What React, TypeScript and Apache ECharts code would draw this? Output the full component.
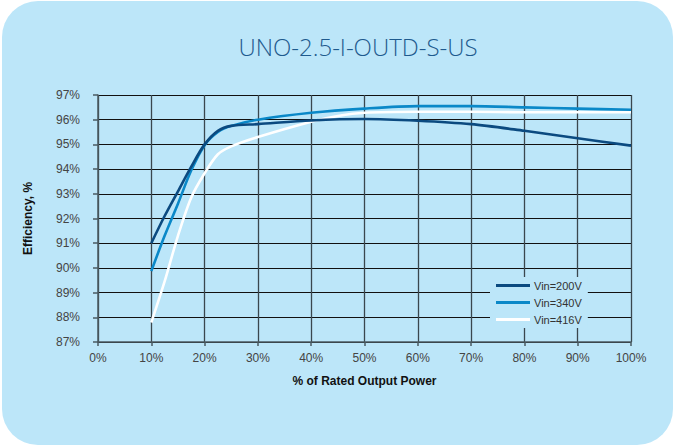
import React, { useEffect, useRef } from "react";
import * as echarts from "echarts";

const xTicks = [0, 10, 20, 30, 40, 50, 60, 70, 80, 90, 100];
const seriesNames = ["Vin=200V", "Vin=340V", "Vin=416V"];
const seriesColors = ["#0b4a80", "#0a88c8", "#ffffff"];

const x200 = [10, 12.5, 15, 17.5, 20, 22.5, 25, 30, 40, 50, 60, 70, 80, 90, 100];
const y200 = [91.0, 92.1, 93.1, 94.1, 95.0, 95.55, 95.75, 95.82, 95.97, 96.03, 95.96, 95.82, 95.55, 95.25, 94.95];

const x340 = [10, 12.5, 15, 17.5, 20, 22.5, 25, 30, 40, 50, 60, 70, 80, 90, 100];
const y340 = [89.87, 91.3, 92.6, 93.95, 94.97, 95.5, 95.75, 96.0, 96.28, 96.45, 96.55, 96.55, 96.5, 96.45, 96.4];

const x416 = [10, 12.5, 15, 17.5, 20, 22.5, 25, 30, 40, 45, 50, 60, 70, 80, 90, 100];
const y416 = [87.79, 89.45, 91.3, 92.85, 93.83, 94.6, 94.92, 95.3, 95.92, 96.15, 96.28, 96.32, 96.32, 96.3, 96.3, 96.3];

const BG = "#bce6f9";
const FONT = "'Liberation Sans', Arial, sans-serif";

export default function App() {
  const ref = useRef<HTMLDivElement>(null);
  useEffect(() => {
    document.body.style.margin = "0";
    const chart = echarts.init(ref.current!, null, { renderer: "svg" });
    const xs = [x200, x340, x416];
    const ys = [y200, y340, y416];
    chart.setOption({
      animation: false,
      backgroundColor: "#ffffff",
      textStyle: { fontFamily: FONT },
      graphic: [
        {
          type: "rect",
          z: -10,
          silent: true,
          shape: { x: 2, y: 1, width: 671, height: 444, r: 36 },
          style: { fill: BG },
        },
        {
          type: "text",
          x: 358,
          y: 46,
          style: {
            text: "UNO-2.5-I-OUTD-S-US",
            textAlign: "center",
            textVerticalAlign: "middle",
            fill: "#1e5a8e",
            font: "300 24px 'Open Sans', 'Liberation Sans', sans-serif",
          },
        },
      ],
      grid: { left: 98, right: 43, top: 95, bottom: 104, containLabel: false },
      legend: {
        orient: "vertical",
        left: 490,
        top: 277,
        padding: [3, 6, 3, 6],
        itemGap: 6,
        itemWidth: 34,
        itemHeight: 3,
        icon: "rect",
        backgroundColor: BG,
        data: seriesNames,
        textStyle: { fontSize: 11, color: "#333", fontFamily: FONT, padding: [0, 0, 0, -1] },
      },
      xAxis: {
        type: "value",
        min: 0,
        max: 100,
        interval: 10,
        name: "% of Rated Output Power",
        nameLocation: "middle",
        nameGap: 33,
        nameTextStyle: { fontSize: 12, fontWeight: "bold", color: "#111", fontFamily: FONT },
        axisLine: { show: true, lineStyle: { color: "#4a5a62", width: 1.5 } },
        axisTick: { show: true, length: 4, lineStyle: { color: "#4a5a62", width: 1.5 } },
        axisLabel: {
          margin: 10,
          fontSize: 12,
          color: "#444",
          formatter: (v: number) => (xTicks.includes(v) ? v + "%" : ""),
        },
        splitLine: { show: true, lineStyle: { color: "#3a474e", width: 1.3 } },
      },
      yAxis: {
        type: "value",
        min: 87,
        max: 97,
        interval: 1,
        name: "Efficiency, %",
        nameLocation: "middle",
        nameGap: 64,
        nameTextStyle: { fontSize: 12, fontWeight: "bold", color: "#111", fontFamily: FONT },
        axisLine: { show: true, lineStyle: { color: "#4a5a62", width: 1.5 } },
        axisTick: { show: true, length: 5, lineStyle: { color: "#4a5a62", width: 1.5 } },
        axisLabel: { margin: 18, fontSize: 12, color: "#444", formatter: "{value}%" },
        splitLine: { show: true, lineStyle: { color: "#111", width: 1.2 } },
      },
      series: seriesNames.map((name, i) => ({
        name,
        type: "line",
        smooth: 0.3,
        showSymbol: false,
        symbol: "none",
        lineStyle: { color: seriesColors[i], width: 2.6 },
        itemStyle: { color: seriesColors[i] },
        z: 10 - i,
        data: xs[i].map((x, j) => [x, ys[i][j]]),
      })),
    });
    return () => chart.dispose();
  }, []);
  return (
    <div
      ref={ref}
      style={{ position: "absolute", left: 0, top: 0, width: 674, height: 446 }}
    />
  );
}
